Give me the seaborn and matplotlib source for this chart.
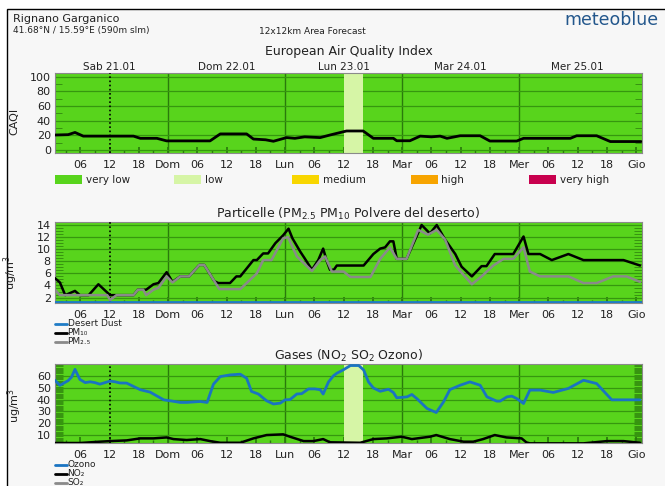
import numpy as np
import pandas as pd
import matplotlib
matplotlib.use("Agg")
import matplotlib.pyplot as plt
from matplotlib.patches import Rectangle
from matplotlib.lines import Line2D
from matplotlib.ticker import FixedLocator, MultipleLocator
import seaborn as sns

# ---------------- data (hours since Sab 21.01 00:00) ----------------
caqi_hours = [0.8, 3.5, 4.9, 6.6, 16.9, 18.3, 21.7, 23.7, 32.6, 34.7, 40.1, 41.5, 44.0, 45.6,
              48.3, 50.0, 52.0, 55.2, 57.2, 60.6, 64.0, 66.1, 70.2, 70.9, 73.6, 75.7, 78.0,
              79.8, 81.2, 83.9, 88.0, 90.0, 95.5, 96.9, 106.5, 107.8, 111.9, 114.7, 121.0]
caqi_values = [20.5, 21, 24, 19, 19, 16, 16, 12.5, 12.5, 22, 22, 15, 14, 12,
               17, 16, 18, 17, 20.5, 26, 26, 16, 16, 12.7, 12.7, 19, 18,
               19, 16, 19.5, 19.5, 12.3, 12.3, 16, 16, 19.5, 19.5, 11.6, 11.6]

pm10_hours = [0.8, 1.8, 2.9, 4.9, 5.9, 7.7, 9.7, 12.1, 13.4, 16.9, 17.8, 18.9, 19.5, 21.0, 22.0,
              23.7, 24.9, 26.5, 28.3, 30.4, 31.4, 33.5, 34.3, 36.7, 38.0, 38.8, 41.5, 42.2,
              43.5, 44.5, 46.0, 47.6, 48.7, 49.5, 51.1, 52.0, 53.5, 54.8, 55.8, 56.6, 57.2,
              58.0, 58.6, 64.1, 66.1, 67.5, 68.5, 69.5, 70.2, 70.9, 72.9, 76.0, 77.7, 79.1,
              80.8, 82.9, 84.2, 86.3, 88.3, 89.3, 91.0, 94.8, 96.9, 97.9, 100.3, 102.7,
              106.1, 109.2, 117.4, 120.8]
pm10_values = [5.2, 4.5, 2.4, 3.1, 2.4, 2.4, 4.2, 2.4, 2.4, 2.4, 3.3, 3.3, 3.3, 4.2, 4.4,
               6.2, 4.6, 5.5, 5.5, 7.4, 7.4, 4.7, 4.4, 4.4, 5.5, 5.5, 8.2, 8.2,
               9.3, 9.3, 11.0, 12.3, 13.4, 11.8, 9.6, 8.5, 6.6, 8.2, 10.1, 7.9, 6.6,
               6.6, 7.3, 7.3, 9.2, 10.1, 10.3, 11.3, 11.3, 8.4, 8.4, 14.0, 12.6, 14.0,
               11.6, 9.2, 7.1, 5.5, 7.2, 7.2, 9.2, 9.2, 12.1, 9.2, 9.2, 8.2,
               9.2, 8.2, 8.2, 7.3]

pm25_hours = [0.8, 1.8, 11.5, 12.1, 13.4, 16.9, 17.8, 18.9, 19.5, 21.0, 22.0, 23.7, 24.9,
              26.5, 28.3, 30.4, 31.4, 33.5, 34.5, 38.8, 42.2, 43.5, 45.2, 47.6, 48.6, 50.4,
              53.5, 55.2, 56.2, 57.6, 60.0, 61.4, 65.5, 67.5, 69.5, 70.9, 72.9, 75.3, 77.3,
              79.1, 80.8, 82.9, 86.3, 88.3, 90.7, 92.8, 94.8, 96.9, 98.2, 100.3, 106.1,
              109.2, 111.9, 115.3, 118.0, 120.8]
pm25_values = [3.3, 2.4, 2.4, 1.6, 2.4, 2.4, 3.3, 3.3, 2.4, 3.3, 3.6, 5.5, 4.5,
               5.5, 5.5, 7.4, 7.4, 4.7, 3.4, 3.4, 6.0, 8.2, 8.2, 11.8, 12.0, 8.8,
               6.4, 8.2, 8.8, 6.3, 6.3, 5.4, 5.4, 8.4, 10.3, 8.4, 8.4, 13.2, 12.4,
               13.2, 11.6, 7.3, 4.2, 5.5, 7.3, 8.4, 8.4, 10.3, 6.3, 5.5, 5.5,
               4.4, 4.4, 5.5, 5.5, 4.6]

dust_hours = [0.8, 121.0]
dust_values = [1.25, 1.25]

ozone_hours = [0.8, 1.8, 3.5, 4.2, 4.9, 5.9, 7.0, 8.0, 9.0, 10.0, 12.1, 13.1, 14.1, 15.5,
               18.3, 20.3, 23.1, 24.4, 26.5, 27.8, 30.6, 32.0, 33.3, 34.7, 36.7, 38.8,
               40.1, 41.1, 42.5, 44.2, 45.6, 47.0, 48.0, 49.0, 50.4, 51.4, 52.8, 54.1,
               55.2, 55.8, 56.9, 57.9, 58.6, 59.9, 61.4, 63.1, 64.1, 65.1, 66.1, 67.5,
               69.2, 70.2, 70.9, 73.0, 74.0, 75.0, 77.1, 79.0, 80.5, 81.8, 83.9, 85.9,
               88.0, 89.4, 91.4, 92.1, 93.5, 94.5, 95.5, 96.9, 98.2, 100.3, 103.0, 106.1,
               109.2, 111.9, 115.0, 120.8]
ozone_values = [56.3, 52, 56, 59, 65.5, 57, 54.3, 55, 54.3, 53, 55.6, 55, 54, 53.9,
                48.3, 46.3, 39.8, 39, 37.6, 37.6, 38.4, 37.6, 53, 59.4, 60.8, 61.4,
                58, 46.9, 44.7, 39, 36.3, 37, 39.8, 40, 44.7, 45, 49, 49,
                48.3, 44.7, 54.9, 60, 62.2, 65, 68.7, 68.7, 65, 54.9, 49.8, 47,
                48.7, 46, 41.5, 42.3, 44.3, 40.9, 32.5, 29.1, 38.1, 48.4, 52.1, 54.9,
                52.1, 42.3, 38.7, 38.7, 42.3, 42.9, 40.9, 36.7, 48, 48, 46, 49.4,
                56.3, 53.5, 39.8, 39.8]

no2_hours = [0.8, 5.9, 10.0, 12.1, 15.5, 18.3, 21.0, 23.7, 25.1, 27.8, 30.6, 32.6, 34.7,
             38.8, 41.5, 44.2, 47.6, 49.0, 51.8, 53.8, 55.8, 57.2, 63.4, 66.1, 68.9, 71.9,
             74.0, 77.7, 79.0, 81.8, 84.6, 86.6, 88.6, 91.0, 93.4, 96.5, 97.5, 98.2,
             109.2, 114.0, 117.4, 120.8]
no2_values = [3.4, 3.4, 4.5, 5.0, 5.6, 7.3, 7.3, 8.1, 6.7, 5.9, 6.7, 5.0, 3.6,
              3.6, 7.3, 10.1, 10.7, 8.7, 5.0, 5.0, 6.7, 4.0, 3.6, 6.7, 7.3, 8.7,
              6.7, 8.7, 10.1, 6.7, 4.5, 4.5, 6.7, 10.1, 8.1, 7.3, 3.9, 3.1,
              3.1, 5.0, 5.0, 3.6]

so2_hours = [0.8, 121.0]
so2_values = [1.0, 1.0]

low_band = (60, 64)        # hours where CAQI reaches the "low" class
now_hour = 12

day_ticks = [6, 12, 18, 24, 30, 36, 42, 48, 54, 60, 66, 72, 78, 84, 90, 96, 102, 108, 114, 120]
day_tick_labels = ["06", "12", "18", "Dom", "06", "12", "18", "Lun", "06", "12", "18", "Mar",
                   "06", "12", "18", "Mer", "06", "12", "18", "Gio"]
day_names = ["Sab 21.01", "Dom 22.01", "Lun 23.01", "Mar 24.01", "Mer 25.01"]
day_name_pos = [12, 36, 60, 84, 108]

caqi_classes = ["very low", "low", "medium", "high", "very high"]
caqi_colors = ["#58d41c", "#d6f5a6", "#f8d600", "#f7a400", "#c8004e"]

particle_labels = ["Desert Dust", "PM₁₀", "PM₂.₅"]
gas_labels = ["Ozono", "NO₂", "SO₂"]

# ---------------- styling ----------------
sns.set_theme(style="white")
plt.rcParams["font.family"] = ["DejaVu Sans"]

W, H = 665, 486
fig = plt.figure(figsize=(W / 100, H / 100), dpi=100)
fig.patch.set_facecolor("white")

def fx(x):
    return x / W

def fy(y):
    return 1 - y / H

# outer frame
fig.add_artist(Rectangle((fx(7), fy(492)), fx(670) - fx(7), fy(9) - fy(492),
                         transform=fig.transFigure, facecolor="#f7f7f7",
                         edgecolor="black", lw=1.0, zorder=-10))

GREEN = "#58d41c"
GRID = "#36970f"
DAYLINE = "#2a7a0c"
TXT = "#222222"
XMIN, XMAX = 0.8, 121.2

def make_axes(top, bottom):
    ax = fig.add_axes([fx(55), fy(bottom), fx(642) - fx(55), fy(top) - fy(bottom)])
    ax.set_facecolor(GREEN)
    for s in ax.spines.values():
        s.set_color("#8a8a8a")
        s.set_linewidth(0.8)
    ax.set_xlim(XMIN, XMAX)
    ax.xaxis.set_major_locator(FixedLocator(day_ticks))
    ax.set_xticklabels(day_tick_labels)
    ax.xaxis.set_minor_locator(MultipleLocator(3))
    ax.tick_params(axis="x", which="major", direction="in", length=4, color=DAYLINE,
                   labelsize=8, labelcolor=TXT, pad=5, bottom=True)
    ax.tick_params(axis="x", which="minor", direction="in", length=2.5, color=DAYLINE,
                   bottom=True)
    ax.tick_params(axis="y", which="major", direction="in", length=0, labelsize=8,
                   labelcolor=TXT, pad=3, left=True)
    ax.tick_params(axis="y", which="minor", direction="in", length=6, width=0.5,
                   color=DAYLINE, left=True, right=True)
    for d in (24, 48, 72, 96):
        ax.axvline(d, color=DAYLINE, lw=1.0, zorder=1)
    ax.axvline(now_hour, color="black", lw=1.2, ls=(0, (1, 1.5)), zorder=3)
    return ax

def hgrid(ax, levels):
    for v in levels:
        ax.axhline(v, color=GRID, lw=0.9, zorder=1)

def line_legend(labels, colors, y0, step):
    for i, (lab, col) in enumerate(zip(labels, colors)):
        y = y0 + i * step
        fig.add_artist(Line2D([fx(55), fx(67)], [fy(y), fy(y)], color=col, lw=2.0))
        fig.text(fx(67.5), fy(y), lab, fontsize=6.5, color=TXT, va="center")

# ---------------- header ----------------
fig.text(fx(13), fy(19), "Rignano Garganico", fontsize=8, color=TXT, va="center")
fig.text(fx(13), fy(31), "41.68°N / 15.59°E (590m slm)", fontsize=6.5, color=TXT, va="center")
fig.text(fx(312), fy(31), "12x12km Area Forecast", fontsize=6.5, color=TXT, va="center",
         ha="center")
fig.text(fx(659), fy(20), "meteoblue", fontsize=12.5, color="#23578c", va="center",
         ha="right")

# ---------------- panel 1: CAQI ----------------
ax1 = make_axes(73, 153)
ax1.set_ylim(-4, 105)
ax1.set_yticks([0, 20, 40, 60, 80, 100])
ax1.yaxis.set_minor_locator(FixedLocator([10, 30, 50, 70, 90]))
ax1.tick_params(axis="y", which="minor", length=5)
hgrid(ax1, [0, 20, 40, 60, 80, 100])
ax1.axvspan(*low_band, color=caqi_colors[1], lw=0, zorder=2)
df_caqi = pd.DataFrame({"hour": caqi_hours, "CAQI": caqi_values})
sns.lineplot(data=df_caqi, x="hour", y="CAQI", ax=ax1, color="black", lw=2.0, zorder=4)
ax1.set_xlabel("")
ax1.set_ylabel("CAQI", fontsize=8, color=TXT)
ax1.yaxis.set_label_coords(-0.06, 0.4)
top = ax1.secondary_xaxis("top")
top.set_xticks(day_name_pos)
top.set_xticklabels(day_names)
top.tick_params(length=0, labelsize=7.5, labelcolor=TXT, pad=1)
top.spines["top"].set_visible(False)
fig.text(ax1.get_position().x0 + ax1.get_position().width / 2, fy(52),
         "European Air Quality Index", fontsize=9, color=TXT, ha="center", va="center")

for i, (name, col) in enumerate(zip(caqi_classes, caqi_colors)):
    x0 = 55 + i * 118.5
    fig.add_artist(Rectangle((fx(x0), fy(184)), fx(27), fy(175) - fy(184),
                             transform=fig.transFigure, facecolor=col, edgecolor="none"))
    fig.text(fx(x0 + 31), fy(180), name, fontsize=7.5, color=TXT, va="center")

# ---------------- panel 2: particles ----------------
ax2 = make_axes(222, 303)
ax2.set_ylim(1.1, 14.5)
ax2.set_yticks([2, 4, 6, 8, 10, 12, 14])
ax2.yaxis.set_minor_locator(MultipleLocator(0.5))
hgrid(ax2, [2, 4, 6, 8, 10, 12, 14])
df_dust = pd.DataFrame({"hour": dust_hours, "v": dust_values})
df_pm10 = pd.DataFrame({"hour": pm10_hours, "v": pm10_values})
df_pm25 = pd.DataFrame({"hour": pm25_hours, "v": pm25_values})
sns.lineplot(data=df_pm10, x="hour", y="v", ax=ax2, color="black", lw=1.8, zorder=4)
sns.lineplot(data=df_pm25, x="hour", y="v", ax=ax2, color="#8a8a8a", lw=1.8, zorder=5)
sns.lineplot(data=df_dust, x="hour", y="v", ax=ax2, color="#1f7cc6", lw=2.0, zorder=6)
ax2.set_xlabel("")
ax2.set_ylabel("ug/m$^3$", fontsize=8, color=TXT)
ax2.yaxis.set_label_coords(-0.06, 0.38)
ax2.set_title("Particelle (PM$_{2.5}$ PM$_{10}$ Polvere del deserto)", fontsize=9,
              color=TXT, pad=3)
line_legend(particle_labels, ["#1f7cc6", "black", "#8a8a8a"], 323.5, 9)

# ---------------- panel 3: gases ----------------
ax3 = make_axes(364, 443)
ax3.set_ylim(3.4, 70)
ax3.set_yticks([10, 20, 30, 40, 50, 60])
ax3.yaxis.set_minor_locator(MultipleLocator(1))
hgrid(ax3, [10, 20, 30, 40, 50, 60])
ax3.axvspan(*low_band, color=caqi_colors[1], lw=0, zorder=2)
df_o3 = pd.DataFrame({"hour": ozone_hours, "v": ozone_values})
df_no2 = pd.DataFrame({"hour": no2_hours, "v": no2_values})
df_so2 = pd.DataFrame({"hour": so2_hours, "v": so2_values})
sns.lineplot(data=df_so2, x="hour", y="v", ax=ax3, color="#8a8a8a", lw=1.8, zorder=4)
sns.lineplot(data=df_no2, x="hour", y="v", ax=ax3, color="black", lw=1.8, zorder=5)
sns.lineplot(data=df_o3, x="hour", y="v", ax=ax3, color="#1a74c2", lw=2.0, zorder=6)
ax3.set_xlabel("")
ax3.set_ylabel("ug/m$^3$", fontsize=8, color=TXT)
ax3.yaxis.set_label_coords(-0.052, 0.47)
ax3.set_title("Gases (NO$_2$ SO$_2$ Ozono)", fontsize=9, color=TXT, pad=3)
line_legend(gas_labels, ["#1a74c2", "black", "#8a8a8a"], 464.5, 9)

fig.savefig("out.png", dpi=100, facecolor=fig.get_facecolor())
